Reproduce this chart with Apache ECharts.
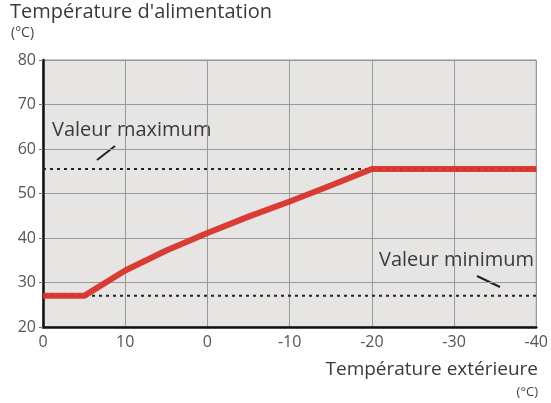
<!DOCTYPE html>
<html><head><meta charset="utf-8">
<script src="https://cdn.jsdelivr.net/npm/echarts@6/dist/echarts.min.js"></script>
<style>html,body{margin:0;padding:0;background:#fff}#c{width:551px;height:403px}</style>
</head><body><div id="c"></div>
<script>
const xTicks = [20, 10, 0, -10, -20, -30, -40];
const xTickLabels = ['0', '10', '0', '-10', '-20', '-30', '-40'];
const yTicks = [20, 30, 40, 50, 60, 70, 80];
const curveX = [20, 15, 10, 5, 0, -5, -10, -15, -20, -40];
const curveY = [27, 27, 32.7, 37.2, 41.1, 44.8, 48.2, 51.8, 55.5, 55.5];
const maxValue = 55.5;
const minValue = 27;
const yTitle = "Température d'alimentation";
const xTitle = 'Température extérieure';
const unit = '(°C)';
const maxLabel = 'Valeur maximum';
const minLabel = 'Valeur minimum';

const FONT = '"Open Sans", "Noto Sans", sans-serif';
const chart = echarts.init(document.getElementById('c'));
const curve = curveX.map((x, i) => [x, curveY[i]]);
const xMin = Math.min(...xTicks), xMax = Math.max(...xTicks);
chart.setOption({
  animation: false,
  grid: {left: 43, right: 13, top: 60, bottom: 76, show: true,
         backgroundColor: '#e7e5e3', borderColor: '#8a8a8a', borderWidth: 1},
  xAxis: {type: 'value', min: xMin, max: xMax, interval: 10, inverse: true,
    axisLine: {onZero: false, lineStyle: {color: '#111', width: 2.5}},
    axisTick: {show: false},
    splitLine: {lineStyle: {color: '#999', width: 1}},
    axisLabel: {color: '#555', fontSize: 16, fontFamily: FONT, margin: 7,
      formatter: v => { const i = xTicks.indexOf(v); return i >= 0 ? xTickLabels[i] : ''; }}
  },
  yAxis: {type: 'value', min: yTicks[0], max: yTicks[yTicks.length - 1], interval: 10,
    axisLine: {onZero: false, lineStyle: {color: '#111', width: 2.5}},
    axisTick: {show: true, length: 4, lineStyle: {color: '#777'}},
    splitLine: {lineStyle: {color: '#999', width: 1}},
    axisLabel: {color: '#555', fontSize: 16, fontFamily: FONT, margin: 7}
  },
  series: [
    {type: 'line', data: [[xMax, maxValue], [xMin, maxValue]], symbol: 'none',
     lineStyle: {color: '#222', width: 2, type: [3, 4]}, z: 2},
    {type: 'line', data: [[xMax, minValue], [xMin, minValue]], symbol: 'none',
     lineStyle: {color: '#222', width: 2, type: [3, 4]}, z: 2},
    {type: 'line', data: curve, symbol: 'none',
     lineStyle: {color: '#d8332b', width: 6, opacity: 0.95, join: 'round'}, z: 3}
  ],
  graphic: [
    {type: 'text', left: 10, top: 2, style: {text: yTitle, fill: '#3a3a3a', font: '20px ' + FONT}},
    {type: 'text', left: 11, top: 26, style: {text: unit, fill: '#444', font: '14px ' + FONT}},
    {type: 'text', right: 13, top: 360, style: {text: xTitle, fill: '#3a3a3a', font: '19px ' + FONT}},
    {type: 'text', right: 13, top: 386, style: {text: unit, fill: '#444', font: '13px ' + FONT}},
    {type: 'text', left: 52, top: 120, style: {text: maxLabel, fill: '#3a3a3a', font: '20px ' + FONT}},
    {type: 'line', shape: {x1: 97, y1: 160, x2: 115, y2: 146}, style: {stroke: '#222', lineWidth: 2}},
    {type: 'text', left: 379, top: 250, style: {text: minLabel, fill: '#3a3a3a', font: '20px ' + FONT}},
    {type: 'line', shape: {x1: 477, y1: 276, x2: 500, y2: 287}, style: {stroke: '#222', lineWidth: 2}}
  ]
});
</script></body></html>
